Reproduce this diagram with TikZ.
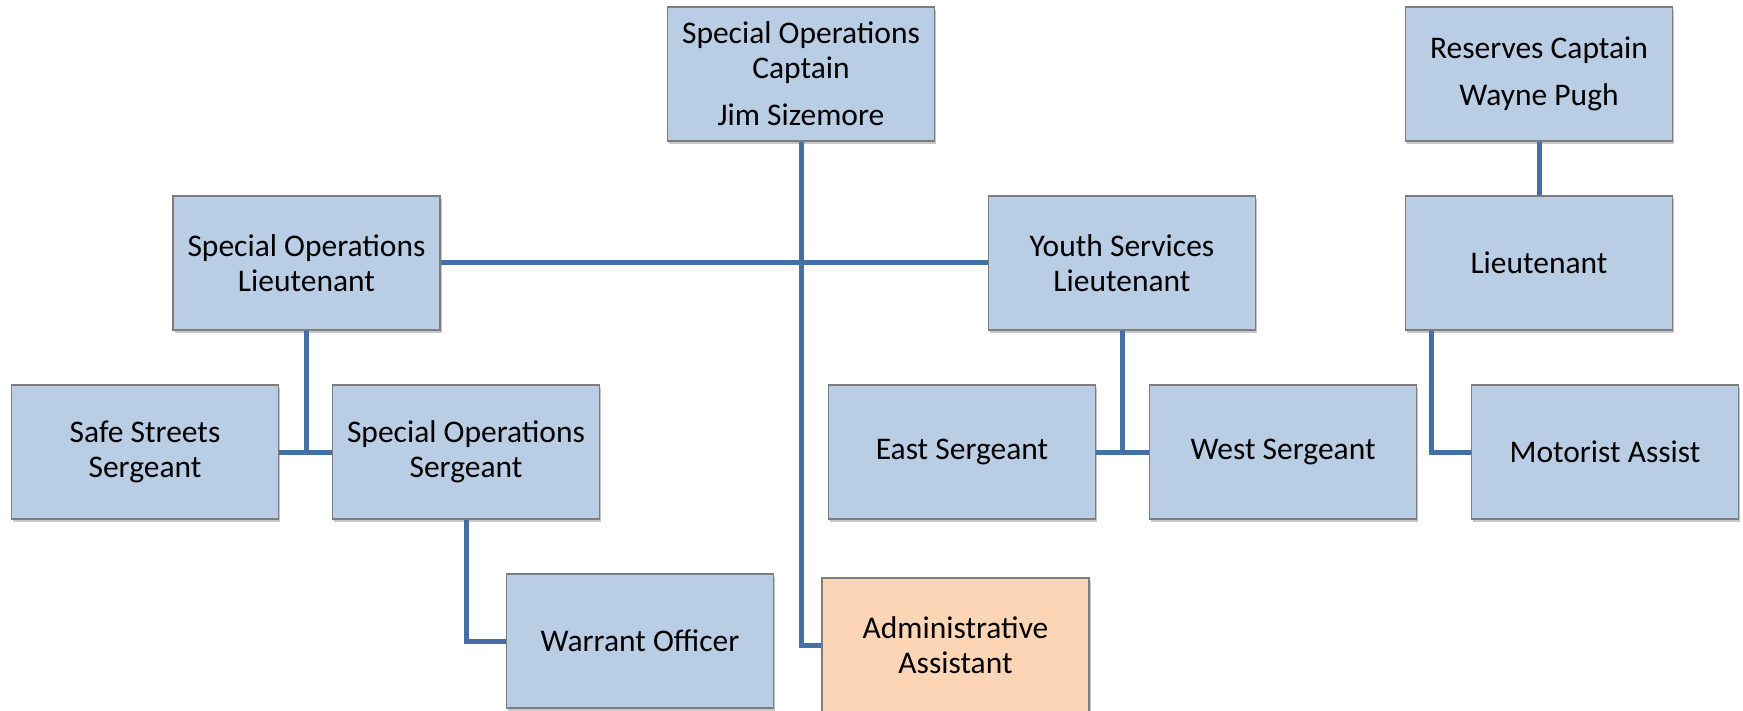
\documentclass[tikz,border=0pt]{standalone}
\usepackage{fontspec}
\setmainfont{Carlito}
\usetikzlibrary{shadows}
\definecolor{boxblue}{RGB}{185,205,229}
\definecolor{boxorange}{RGB}{251,213,181}
\definecolor{boxline}{RGB}{125,125,125}
\definecolor{conn}{RGB}{68,112,166}
\tikzset{
  orgbox/.style={draw=boxline, line width=1.3pt, fill=boxblue, rectangle,
    minimum width=267pt, minimum height=134pt, inner sep=0pt, align=center,
    font=\fontsize{31.5}{35}\selectfont,
    general shadow={fill=black, opacity=0.22, shadow xshift=1.5pt, shadow yshift=-3pt}},
  adminbox/.style={orgbox, fill=boxorange},
  link/.style={draw=conn, line width=5pt}
}
\begin{document}
\begin{tikzpicture}[x=1pt, y=-1pt]
\useasboundingbox (0,0) rectangle (1743,711);
\fill[white] (0,0) rectangle (1743,711);
% nodes
\node[orgbox] (cap) at (801,74) {Special Operations\\Captain\\[12pt]Jim Sizemore};
\node[orgbox] (res) at (1539,74) {Reserves Captain\\[12pt]Wayne Pugh};
\node[orgbox] (solt) at (306.5,263) {Special Operations\\Lieutenant};
\node[orgbox] (yslt) at (1122,263) {Youth Services\\Lieutenant};
\node[orgbox] (lt) at (1539,263) {Lieutenant};
\node[orgbox] (ss) at (145,452) {Safe Streets\\Sergeant};
\node[orgbox] (sosg) at (466,452) {Special Operations\\Sergeant};
\node[orgbox] (east) at (962,452) {East Sergeant};
\node[orgbox] (west) at (1283,452) {West Sergeant};
\node[orgbox] (mot) at (1605,452) {Motorist Assist};
\node[orgbox] (war) at (640,641) {Warrant Officer};
\node[adminbox] (adm) at (955.5,645) {Administrative\\Assistant};
% connectors
\draw[link] (cap.south) |- (adm.west);
\draw[link] (solt.east) -- (yslt.west);
\draw[link] (solt.south) -- (solt.south |- ss.east);
\draw[link] (ss.east) -- (sosg.west);
\draw[link] (sosg.south) |- (war.west);
\draw[link] (yslt.south) -- (yslt.south |- east.east);
\draw[link] (east.east) -- (west.west);
\draw[link] (res.south) -- (lt.north);
\coordinate (ltb) at ([xshift=27pt]lt.south west);
\draw[link] (ltb) |- (mot.west);
\end{tikzpicture}
\end{document}
